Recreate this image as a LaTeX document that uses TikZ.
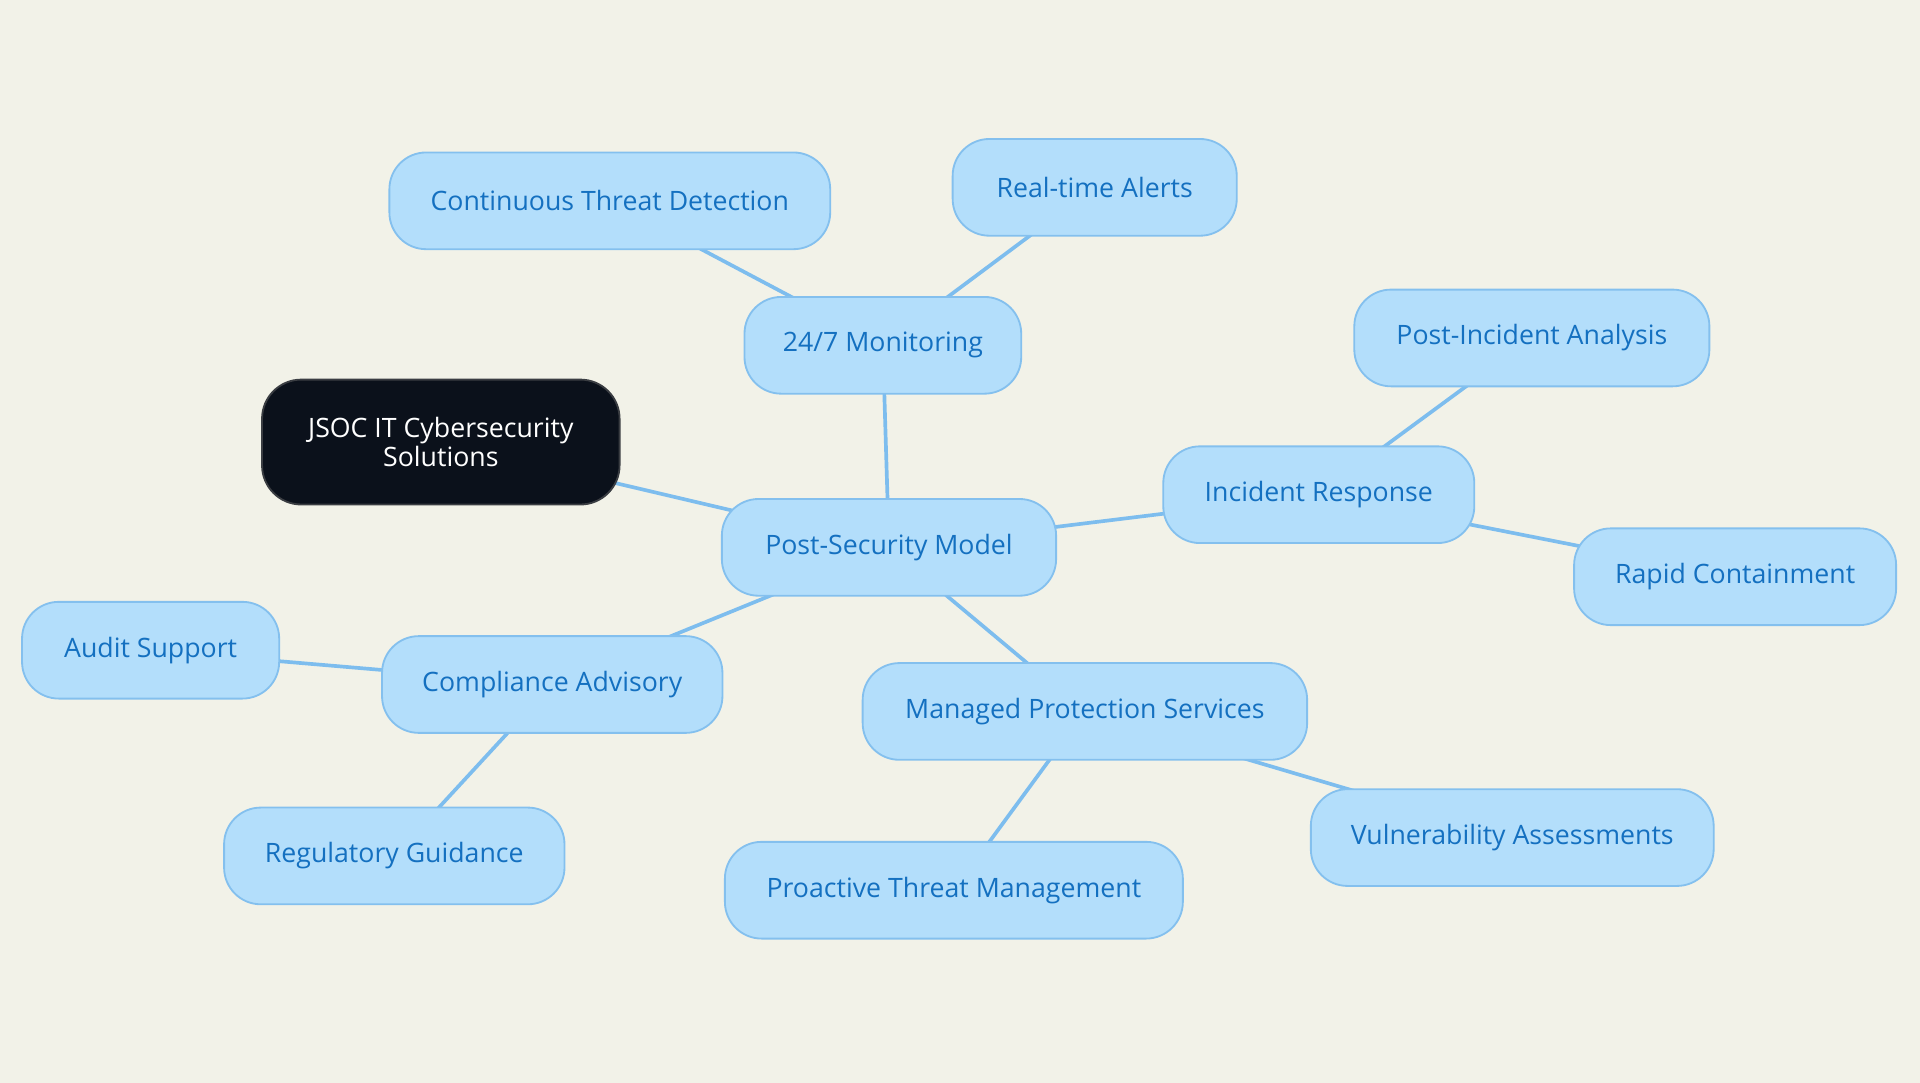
\documentclass[tikz,border=0pt]{standalone}
\usepackage{fontspec}
\setmainfont{Open Sans}
\usetikzlibrary{backgrounds}
\definecolor{bg}{HTML}{F2F2E8}
\definecolor{nfill}{HTML}{B3DEFB}
\definecolor{nborder}{HTML}{84C0EE}
\definecolor{ntext}{HTML}{1470C0}
\definecolor{edgec}{HTML}{7DBDEE}
\definecolor{rootfill}{HTML}{0B111B}
\definecolor{rootborder}{HTML}{3A3D42}
\tikzset{
  leaf/.style={draw=nborder, line width=1.5pt, fill=nfill, text=ntext,
    rounded corners=30pt, minimum height=79pt, inner sep=0pt,
    font=\fontsize{21.8}{26}\selectfont},
  rootnode/.style={draw=rootborder, line width=1.5pt, fill=rootfill, text=white,
    rounded corners=32pt, minimum height=102pt, minimum width=292pt, inner sep=0pt,
    align=center, font=\fontsize{21.8}{24}\selectfont},
  link/.style={draw=edgec, line width=3pt}
}
\begin{document}
\begin{tikzpicture}[x=1pt,y=-1pt]
\useasboundingbox (0,0) rectangle (1568,884.4);
\node[rootnode] (root) at (360,361) {JSOC IT Cybersecurity\\Solutions};
\node[leaf, minimum width=273pt] (psm) at (726,447) {Post-Security Model};
\node[leaf, minimum width=226pt] (mon) at (721,282) {24/7 Monitoring};
\node[leaf, minimum width=360pt] (ctd) at (498,164) {Continuous Threat Detection};
\node[leaf, minimum width=232pt] (rta) at (894,153) {Real-time Alerts};
\node[leaf, minimum width=254pt] (ir) at (1077,404) {Incident Response};
\node[leaf, minimum width=290pt] (pia) at (1251,276) {Post-Incident Analysis};
\node[leaf, minimum width=263pt] (rc) at (1417,471) {Rapid Containment};
\node[leaf, minimum width=363pt] (mps) at (886,581) {Managed Protection Services};
\node[leaf, minimum width=329pt] (va) at (1235,684) {Vulnerability Assessments};
\node[leaf, minimum width=374pt] (ptm) at (779,727) {Proactive Threat Management};
\node[leaf, minimum width=278pt] (ca) at (451,559) {Compliance Advisory};
\node[leaf, minimum width=210pt] (as) at (123,531) {Audit Support};
\node[leaf, minimum width=278pt] (rg) at (322,699) {Regulatory Guidance};
\begin{pgfonlayer}{background}
\fill[bg] (0,0) rectangle (1568,884.4);
\draw[link] (root.center) -- (psm.center);
\draw[link] (psm.center) -- (mon.center);
\draw[link] (mon.center) -- (ctd.center);
\draw[link] (mon.center) -- (rta.center);
\draw[link] (psm.center) -- (ir.center);
\draw[link] (ir.center) -- (pia.center);
\draw[link] (ir.center) -- (rc.center);
\draw[link] (psm.center) -- (mps.center);
\draw[link] (mps.center) -- (va.center);
\draw[link] (mps.center) -- (ptm.center);
\draw[link] (psm.center) -- (ca.center);
\draw[link] (ca.center) -- (as.center);
\draw[link] (ca.center) -- (rg.center);
\end{pgfonlayer}
\end{tikzpicture}
\end{document}
